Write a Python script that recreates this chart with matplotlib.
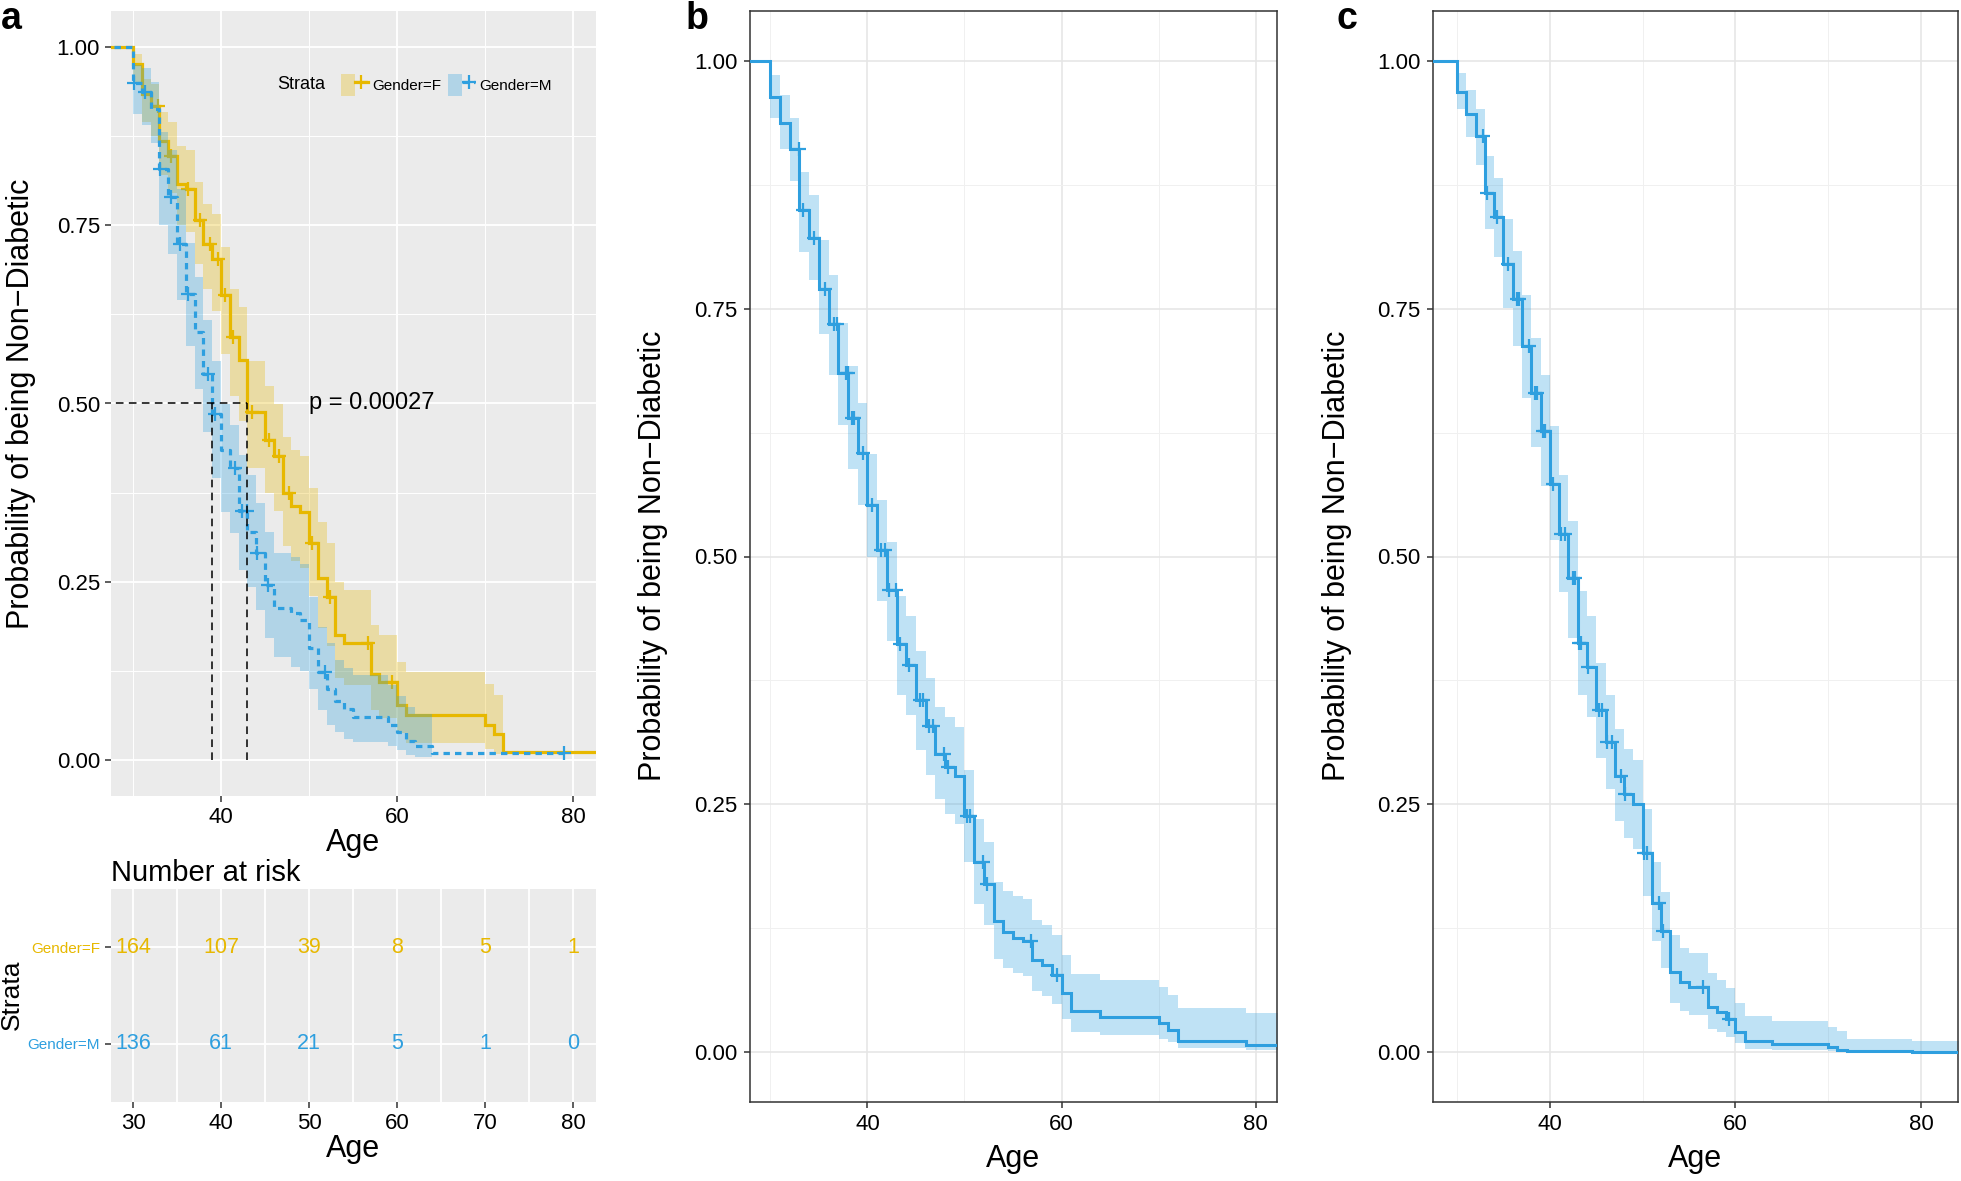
import numpy as np
import matplotlib
matplotlib.use("Agg")
import matplotlib.pyplot as plt  # noqa: E402
from matplotlib.lines import Line2D  # noqa: E402
from matplotlib.patches import Patch  # noqa: E402
from matplotlib.legend_handler import HandlerTuple  # noqa: E402

plt.rcParams["font.family"] = ["Liberation Sans", "DejaVu Sans"]

GOLD = "#E7B800"
BLUE = "#2E9FDF"
YLABEL = "Probability of being Non\u2212Diabetic"

# ---- panel a : Gender=F ----
f_time = [30, 31, 32, 33, 34, 35, 36, 37, 38, 39, 40, 41, 42, 43, 45, 46, 47, 48,
          49, 50, 51, 52, 53, 54, 57, 58, 60, 61, 70, 71, 72]
f_surv = [0.976, 0.934, 0.917, 0.868, 0.847, 0.808, 0.800, 0.757, 0.724, 0.703,
          0.652, 0.593, 0.561, 0.488, 0.449, 0.426, 0.374, 0.357, 0.348, 0.304,
          0.255, 0.229, 0.175, 0.164, 0.121, 0.110, 0.078, 0.063, 0.050, 0.037, 0.012]
f_upper = [0.990, 0.955, 0.948, 0.908, 0.895, 0.861, 0.855, 0.810, 0.780, 0.766,
           0.719, 0.661, 0.635, 0.560, 0.525, 0.500, 0.453, 0.435, 0.426, 0.381,
           0.334, 0.304, 0.250, 0.238, 0.189, 0.175, 0.138, 0.124, 0.107, 0.092]
f_lower = [0.950, 0.895, 0.875, 0.820, 0.795, 0.750, 0.740, 0.695, 0.660, 0.630,
           0.570, 0.510, 0.475, 0.410, 0.375, 0.350, 0.300, 0.280, 0.270, 0.230,
           0.185, 0.160, 0.115, 0.105, 0.070, 0.060, 0.038, 0.024, 0.016, 0.009]
f_censor = [32.8, 34.3, 36.3, 37.6, 38.8, 39.6, 40.5, 41.4, 43.5, 45.4, 46.6, 47.7,
            50.3, 52.4, 56.7, 59.4]

# ---- panel a : Gender=M ----
m_time = [30, 31, 32, 33, 34, 35, 36, 37, 38, 39, 40, 41, 42, 43, 44, 45, 46, 48,
          49, 50, 51, 52, 53, 54, 55, 59, 60, 61, 62, 64]
m_surv = [0.949, 0.937, 0.913, 0.829, 0.790, 0.724, 0.654, 0.600, 0.541, 0.485,
          0.435, 0.409, 0.350, 0.320, 0.290, 0.245, 0.213, 0.206, 0.196, 0.158,
          0.124, 0.100, 0.083, 0.072, 0.061, 0.050, 0.040, 0.027, 0.020, 0.010]
m_upper = [0.975, 0.970, 0.950, 0.880, 0.855, 0.800, 0.725, 0.677, 0.617, 0.560,
           0.500, 0.470, 0.428, 0.400, 0.360, 0.320, 0.290, 0.285, 0.275, 0.229,
           0.187, 0.164, 0.140, 0.130, 0.120, 0.105, 0.090, 0.075, 0.065]
m_lower = [0.905, 0.890, 0.865, 0.750, 0.710, 0.645, 0.580, 0.520, 0.460, 0.395,
           0.348, 0.318, 0.266, 0.243, 0.210, 0.171, 0.145, 0.131, 0.125, 0.100,
           0.070, 0.050, 0.040, 0.030, 0.025, 0.020, 0.014, 0.008, 0.005]
m_censor = [30.1, 31.4, 33.1, 34.3, 35.3, 36.3, 38.5, 39.3, 41.6, 42.4, 42.9, 44.1,
            45.3, 51.8, 79.0]

f_median = 43
m_median = 39
p_label = "p = 0.00027"

# ---- number at risk ----
risk_ages = [30, 40, 50, 60, 70, 80]
risk_f = [164, 107, 39, 8, 5, 1]
risk_m = [136, 61, 21, 5, 1, 0]

# ---- panel b ----
b_time = [30, 31, 32, 33, 34, 35, 36, 37, 38, 39, 40, 41, 42, 43, 44, 45, 46, 47,
          48, 49, 50, 51, 52, 53, 54, 55, 56, 57, 58, 59, 60, 61, 64, 70, 71, 72, 79]
b_surv = [0.963, 0.937, 0.911, 0.849, 0.821, 0.770, 0.734, 0.685, 0.640, 0.604,
          0.552, 0.507, 0.466, 0.412, 0.391, 0.355, 0.329, 0.301, 0.288, 0.279,
          0.238, 0.192, 0.170, 0.132, 0.121, 0.115, 0.112, 0.093, 0.088, 0.078,
          0.060, 0.042, 0.036, 0.030, 0.023, 0.012, 0.007]
b_upper = [0.985, 0.965, 0.942, 0.888, 0.864, 0.819, 0.784, 0.735, 0.692, 0.655,
           0.603, 0.557, 0.515, 0.460, 0.440, 0.405, 0.378, 0.348, 0.338, 0.328,
           0.285, 0.235, 0.212, 0.172, 0.163, 0.158, 0.155, 0.133, 0.128, 0.118,
           0.098, 0.079, 0.073, 0.066, 0.058, 0.045, 0.040]
b_lower = [0.942, 0.911, 0.879, 0.807, 0.779, 0.724, 0.683, 0.633, 0.588, 0.552,
           0.500, 0.455, 0.415, 0.360, 0.340, 0.305, 0.280, 0.255, 0.240, 0.230,
           0.192, 0.150, 0.128, 0.094, 0.085, 0.080, 0.077, 0.062, 0.057, 0.049,
           0.034, 0.021, 0.018, 0.014, 0.010, 0.004, 0.002]
b_censor = [32.9, 33.4, 34.5, 35.6, 36.6, 36.9, 37.8, 37.95, 38.4, 38.65, 39.55,
            40.45, 41.35, 41.8, 42.25, 42.9, 43.4, 44.3, 45.4, 45.75, 46.3, 46.75,
            47.85, 48.3, 50.3, 50.55, 51.9, 52.35, 56.85, 59.55]

# ---- panel c ----
c_time = [30, 31, 32, 33, 34, 35, 36, 37, 38, 39, 40, 41, 42, 43, 44, 45, 46, 47,
          48, 49, 50, 51, 52, 53, 54, 55, 57, 58, 59, 60, 61, 64, 70, 71, 72, 79]
c_surv = [0.968, 0.946, 0.924, 0.866, 0.842, 0.795, 0.760, 0.712, 0.665, 0.627,
          0.573, 0.523, 0.478, 0.413, 0.389, 0.345, 0.313, 0.279, 0.261, 0.250,
          0.201, 0.151, 0.122, 0.081, 0.071, 0.066, 0.046, 0.041, 0.034, 0.021,
          0.011, 0.008, 0.005, 0.002, 0.001, 0.0005]
c_upper = [0.987, 0.970, 0.951, 0.904, 0.882, 0.840, 0.808, 0.764, 0.720, 0.683,
           0.632, 0.582, 0.536, 0.465, 0.440, 0.393, 0.360, 0.326, 0.306, 0.295,
           0.245, 0.192, 0.162, 0.118, 0.105, 0.100, 0.080, 0.073, 0.065, 0.050,
           0.037, 0.032, 0.026, 0.022, 0.014, 0.011]
c_lower = [0.951, 0.923, 0.895, 0.830, 0.802, 0.751, 0.712, 0.660, 0.610, 0.571,
           0.517, 0.464, 0.418, 0.360, 0.338, 0.297, 0.266, 0.233, 0.216, 0.205,
           0.158, 0.112, 0.085, 0.050, 0.042, 0.038, 0.024, 0.021, 0.016, 0.009,
           0.003, 0.002, 0.001, 0.0, 0.0, 0.0]
c_censor = [32.8, 33.2, 34.3, 35.5, 36.45, 36.7, 37.75, 38.4, 38.6, 39.3, 39.5,
            40.35, 41.2, 41.65, 42.5, 42.7, 43.15, 43.4, 44.15, 45.3, 45.6, 46.2,
            46.75, 47.7, 48.1, 50.1, 50.5, 51.8, 52.2, 56.55, 59.35]


def surv_at(times, surv, t):
    idx = np.searchsorted(times, t, side="right") - 1
    return np.where(idx < 0, 1.0, np.asarray(surv)[np.clip(idx, 0, None)])


def draw_km(ax, times, surv, upper, lower, band_end, line_end, censor, color,
            ls="-", lw=2.3, z=3):
    times = np.asarray(times, float)
    nb = len(upper)
    bx = np.append(times[:nb], band_end)
    ax.fill_between(bx, np.append(lower, lower[-1]), np.append(upper, upper[-1]),
                    step="post", color=color, alpha=0.3, lw=0, zorder=z - 1)
    x = np.concatenate([[0.0], times, [line_end]])
    y = np.concatenate([[1.0], surv, [surv[-1]]])
    ax.step(x, y, where="post", color=color, lw=lw, ls=ls, zorder=z,
            solid_joinstyle="miter")
    cx = np.asarray(censor, float)
    ax.plot(cx, surv_at(times, surv, cx), ls="none", marker="+", ms=10,
            mew=1.6, color=color, zorder=z + 1)


def style_grey(ax):
    ax.set_facecolor("#EBEBEB")
    for s in ax.spines.values():
        s.set_visible(False)
    ax.grid(True, which="major", color="white", lw=1.3, zorder=0)
    ax.grid(True, which="minor", color="white", lw=0.7, zorder=0)
    ax.set_axisbelow(True)
    ax.tick_params(which="major", direction="out", length=4, width=1.1,
                   color="#333333", labelsize=16, labelcolor="black", pad=4)
    ax.tick_params(which="minor", length=0)


def style_bw(ax):
    ax.set_facecolor("white")
    for s in ax.spines.values():
        s.set_color("#333333")
        s.set_linewidth(1.1)
    ax.grid(True, which="major", color="#E6E6E6", lw=1.2, zorder=0)
    ax.grid(True, which="minor", color="#F0F0F0", lw=0.7, zorder=0)
    ax.set_axisbelow(True)
    ax.tick_params(which="major", direction="out", length=4, width=1.1,
                   color="#333333", labelsize=16, labelcolor="black", pad=5)
    ax.tick_params(which="minor", length=0)


W, H = 1961, 1181
fig = plt.figure(figsize=(W / 100, H / 100), dpi=100)


def box(left, top, right, bottom):
    return [left / W, 1 - bottom / H, (right - left) / W, (bottom - top) / H]


# ---------------- panel a ----------------
ax = fig.add_axes(box(111, 11, 596, 796))
style_grey(ax)
draw_km(ax, f_time, f_surv, f_upper, f_lower, f_time[len(f_upper)], 90,
        f_censor, GOLD, z=3)
draw_km(ax, m_time, m_surv, m_upper, m_lower, m_time[len(m_upper)], 79,
        m_censor, BLUE, ls=(0, (2.0, 1.6)), z=5)
ax.plot([0, f_median], [0.5, 0.5], color="black", lw=1.1, ls=(0, (5, 3.5)), zorder=7)
for med in (m_median, f_median):
    ax.plot([med, med], [0, 0.5], color="black", lw=1.1, ls=(0, (5, 3.5)), zorder=7)
ax.text(50, 0.5, p_label, fontsize=17, ha="left", va="center", zorder=8)
ax.set_xlim(27.5, 82.6)
ax.set_ylim(-0.05, 1.05)
ax.set_xticks([40, 60, 80])
ax.set_xticks([30, 50, 70], minor=True)
ax.set_yticks([0, 0.25, 0.5, 0.75, 1.0])
ax.set_yticklabels(["0.00", "0.25", "0.50", "0.75", "1.00"])
ax.set_yticks([0.125, 0.375, 0.625, 0.875], minor=True)
ax.set_xlabel("Age", fontsize=22, labelpad=0)

handles = [
    (Patch(facecolor=GOLD, alpha=0.3, lw=0),
     Line2D([], [], color=GOLD, lw=2.3, marker="+", ms=10, mew=1.6)),
    (Patch(facecolor=BLUE, alpha=0.3, lw=0),
     Line2D([], [], color=BLUE, lw=2.3, ls=(0, (2.0, 1.6)), marker="+", ms=10, mew=1.6)),
]
ax.legend(handles, ["Gender=F", "Gender=M"], ncol=2, frameon=False, fontsize=11,
          handler_map={tuple: HandlerTuple(ndivide=None)}, handlelength=1.8,
          handleheight=1.8, handletextpad=0.25, columnspacing=0.45, borderpad=0,
          loc="center left", bbox_to_anchor=(0.458, 0.906))
ax.text(0.342, 0.906, "Strata", transform=ax.transAxes, fontsize=13,
        ha="left", va="center")

fig.text(21 / W, 1 - 403.5 / H, YLABEL, rotation=90, fontsize=22,
         ha="center", va="center")

# ---------------- risk table ----------------
rt = fig.add_axes(box(111, 889, 596, 1102))
style_grey(rt)
rt.grid(True, which="minor", color="white", lw=1.3, zorder=0)
for xa, nf, nm in zip(risk_ages, risk_f, risk_m):
    rt.text(xa, 2, str(nf), color=GOLD, fontsize=15.5, ha="center", va="center")
    rt.text(xa, 1, str(nm), color=BLUE, fontsize=15.5, ha="center", va="center")
rt.set_xlim(27.5, 82.6)
rt.set_ylim(0.4, 2.6)
rt.set_xticks(risk_ages)
rt.set_xticks([35, 45, 55, 65, 75], minor=True)
rt.set_yticks([1, 2])
rt.set_yticklabels(["Gender=M", "Gender=F"], fontsize=11)
for lab, col in zip(rt.get_yticklabels(), [BLUE, GOLD]):
    lab.set_color(col)
rt.set_xlabel("Age", fontsize=22, labelpad=0)
rt.set_title("Number at risk", fontsize=21, loc="left", pad=6)
fig.text(12 / W, 1 - 995 / H, "Strata", rotation=90, fontsize=19,
         ha="center", va="center")

# ---------------- panel b ----------------
bx_ = fig.add_axes(box(750, 11, 1277, 1102))
style_bw(bx_)
draw_km(bx_, b_time, b_surv, b_upper, b_lower, 90, 90, b_censor, BLUE, lw=2.2)
bx_.set_xlim(27.9, 82.2)
bx_.set_ylim(-0.05, 1.05)

# ---------------- panel c ----------------
cx_ = fig.add_axes(box(1433, 11, 1958, 1102))
style_bw(cx_)
draw_km(cx_, c_time, c_surv, c_upper, c_lower, 90, 90, c_censor, BLUE, lw=2.2)
cx_.set_xlim(27.4, 84.0)
cx_.set_ylim(-0.05, 1.05)

for a_, xl in ((bx_, 653), (cx_, 1337)):
    a_.set_xticks([40, 60, 80])
    a_.set_xticks([30, 50, 70], minor=True)
    a_.set_yticks([0, 0.25, 0.5, 0.75, 1.0])
    a_.set_yticklabels(["0.00", "0.25", "0.50", "0.75", "1.00"])
    a_.set_yticks([0.125, 0.375, 0.625, 0.875], minor=True)
    a_.set_xlabel("Age", fontsize=22, labelpad=6)
    fig.text(xl / W, 1 - 556 / H, YLABEL, rotation=90, fontsize=22,
             ha="center", va="center")

for lbl, xp in (("a", 1), ("b", 686), ("c", 1336)):
    fig.text(xp / W, 0.999, lbl, fontsize=27, fontweight="bold",
             ha="left", va="top")

fig.savefig("out.png", dpi=100)
plt.close(fig)
